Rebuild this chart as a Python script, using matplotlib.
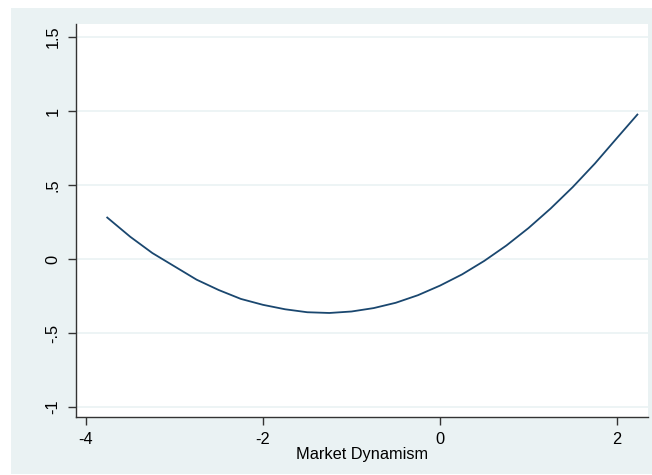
import matplotlib.pyplot as plt
from matplotlib.patches import Rectangle

plt.rcParams['font.family'] = ['Liberation Sans', 'DejaVu Sans']

# fitted curve
market_dynamism = [-3.76, -3.5, -3.25, -3.0, -2.75, -2.5, -2.25, -2.0, -1.75, -1.5,
                   -1.25, -1.0, -0.75, -0.5, -0.25, 0.0, 0.25, 0.5, 0.75, 1.0,
                   1.25, 1.5, 1.75, 2.0, 2.23]
fitted = [0.28, 0.15, 0.04, -0.05, -0.14, -0.21, -0.27, -0.31, -0.34, -0.36,
          -0.365, -0.355, -0.332, -0.296, -0.245, -0.18, -0.104, -0.013, 0.091, 0.209,
          0.341, 0.486, 0.645, 0.818, 0.976]

xticks = [-4, -2, 0, 2]
yticks = [-1, -0.5, 0, 0.5, 1, 1.5]
ylabels = ['-1', '-.5', '0', '.5', '1', '1.5']

bg = '#eaf2f3'
W, H = 652, 475
fig = plt.figure(figsize=(W / 100, H / 100), dpi=100, facecolor='white')
fig.patches.append(Rectangle((11 / W, 1 / H), 641 / W, 466 / H, transform=fig.transFigure,
                             facecolor=bg, edgecolor='none', zorder=-10))

ax = fig.add_axes([76 / W, (H - 417) / H, (648 - 76) / W, (417 - 24) / H])
ax.set_zorder(5)
ax.set_facecolor('white')
ax.plot(market_dynamism, fitted, color='#1a476f', lw=1.3)

ax.set_xlim(-4.113, 2.35)
ax.set_ylim(-1.068, 1.588)
ax.set_xticks(xticks)
ax.set_xticklabels([str(t) for t in xticks])
ax.set_yticks(yticks)
ax.set_yticklabels(ylabels, rotation=90, va='center')

for y in yticks:
    ax.axhline(y, color=bg, lw=1.2, zorder=0)

for s in ['top', 'right']:
    ax.spines[s].set_visible(False)
for s in ['left', 'bottom']:
    ax.spines[s].set_color('#333333')
    ax.spines[s].set_linewidth(1)

ax.tick_params(axis='both', direction='out', length=6, width=1, color='#333333',
               labelsize=11.8, pad=5)
ax.set_xlabel('Market Dynamism', fontsize=11.8, labelpad=0)

fig.savefig('out.png', dpi=100, facecolor='white')
